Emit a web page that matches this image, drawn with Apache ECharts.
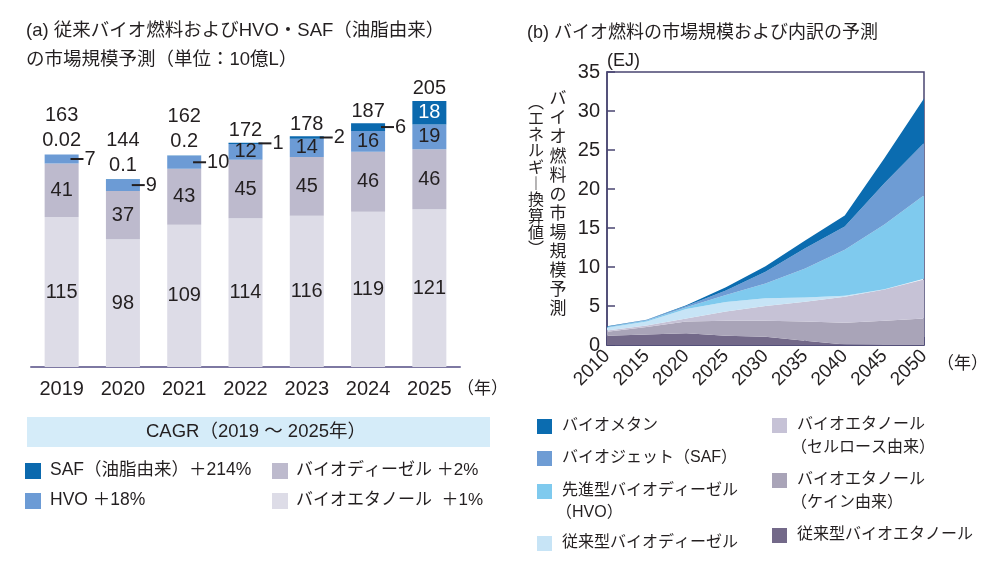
<!DOCTYPE html>
<html><head><meta charset="utf-8">
<script src="https://cdn.jsdelivr.net/npm/echarts@6/dist/echarts.min.js"></script>
<style>html,body{margin:0;padding:0;background:#fff}#c{width:1000px;height:571px}</style>
</head><body><div id="c"></div>
<script>
// ---- Panel (a) data: 10億L ----
const barYears = ['2019','2020','2021','2022','2023','2024','2025'];
const ethanolA = [115, 98, 109, 114, 116, 119, 121];
const dieselA  = [41, 37, 43, 45, 45, 46, 46];
const hvoA     = [7, 9, 10, 12, 14, 16, 19];
const safA     = [0.02, 0.1, 0.2, 1, 2, 6, 18];
const totalA   = [163, 144, 162, 172, 178, 187, 205];
const hvoLabelMode = ['leader','leader','leader','inside','inside','inside','inside'];
const safLabelMode = ['top','top','top','leader','leader','leader','inside'];

// ---- Panel (b) data: EJ ----
const areaYears = ['2010','2015','2020','2025','2030','2035','2040','2045','2050'];
const convEthanol = [1.2, 1.35, 1.5, 1.2, 1.05, 0.55, 0.08, 0, 0];
const caneEthanol = [0.5, 0.95, 1.5, 1.9, 2.05, 2.45, 2.77, 3.1, 3.4];
const celluEthanol = [0.15, 0.2, 0.4, 1.2, 1.9, 2.55, 3.35, 4.0, 5.0];
const convDiesel = [0.35, 0.5, 1.2, 1.2, 1.0, 0.55, 0.1, 0.05, 0.1];
const hvoB = [0.1, 0.15, 0.25, 0.9, 1.9, 3.7, 5.9, 8.3, 10.7];
const safB = [0.05, 0.05, 0.15, 0.6, 1.5, 2.6, 3.0, 5.3, 6.7];
const methaneB = [0.05, 0.05, 0.1, 0.4, 0.7, 1.0, 1.4, 3.2, 5.7];
const yTicksB = [0, 35, 5];

const FONT = '"Liberation Sans", Arial, "Noto Sans CJK JP", sans-serif';
const TXT = '#231f20';
const C = {
  safA: '#0b69ae', hvoA: '#6c9bd5', dieselA: '#bdbacd', ethA: '#dddce7',
  meth: '#0b6cb0', safB: '#6e9cd4', hvoB: '#7fcaee', bd: '#c7e4f6',
  cellu: '#c6c2d6', cane: '#a9a4b8', conv: '#736989', frame: '#4a4672'
};

function leaderLabel(v, pos) {
  return {
    show: true, position: [pos, '50%'], align: 'left', verticalAlign: 'middle',
    formatter: '{l|}{n|' + v + '}',
    rich: {
      l: { width: 13, height: 2, backgroundColor: TXT, verticalAlign: 'middle' },
      n: { fontSize: 20, color: TXT, fontFamily: FONT, padding: [0, 0, 0, 1], verticalAlign: 'middle' }
    }
  };
}
function insideLabel(color) {
  return { show: true, position: 'inside', fontSize: 20, color: color || TXT, fontFamily: FONT };
}

const hvoData = hvoA.map((v, i) => ({
  value: v,
  label: hvoLabelMode[i] === 'leader' ? leaderLabel(v, '76%') : insideLabel()
}));
const safData = safA.map((v, i) => {
  let label;
  if (safLabelMode[i] === 'leader') label = leaderLabel(v, '88%');
  else if (safLabelMode[i] === 'inside') label = insideLabel('#ffffff');
  else label = { show: true, position: 'top', distance: 4, fontSize: 20, color: TXT, fontFamily: FONT };
  return { value: v, label };
});
const totalData = totalA.map((t, i) => ({
  value: [i, ethanolA[i] + dieselA[i] + hvoA[i] + safA[i]],
  label: {
    show: true, position: 'top', distance: safLabelMode[i] === 'top' ? 29 : 2,
    formatter: String(t), fontSize: 20, color: TXT, opacity: 1, fontFamily: FONT
  }
}));

function areaSeries(name, data, color) {
  return {
    name, type: 'line', xAxisIndex: 1, yAxisIndex: 1, stack: 'b', data,
    symbol: 'none', smooth: false, lineStyle: { width: 0 },
    areaStyle: { color, opacity: 1 }, itemStyle: { color }
  };
}

function sq(x, y, color, s) { return { type: 'rect', shape: { x, y, width: s || 15, height: s || 15 }, style: { fill: color } }; }
function txt(x, y, text, size, opts) {
  return { type: 'text', x, y, style: Object.assign({ text, fill: TXT, font: (size || 17) + 'px ' + FONT, textVerticalAlign: 'middle', textAlign: 'left' }, (opts || {})) };
}

const graphic = [
  txt(26, 31, '(a) 従来バイオ燃料およびHVO・SAF（油脂由来）', 18.5),
  txt(26, 60, 'の市場規模予測（単位：10億L）', 18.5),
  txt(457, 389, '（年）', 17),
  { type: 'rect', shape: { x: 27, y: 417, width: 463, height: 30 }, style: { fill: '#d5ecf9' } },
  txt(256, 432, 'CAGR（2019 ～ 2025年）', 18.5, { textAlign: 'center' }),
  sq(25, 463, C.safA, 16), txt(50, 470, 'SAF（油脂由来）＋214%', 17.5),
  sq(25, 493, C.hvoA, 16), txt(50, 500, 'HVO ＋18%', 17.5),
  sq(272, 463, C.dieselA, 16), txt(296, 470, 'バイオディーゼル ＋2%', 17),
  sq(272, 493, C.ethA, 16), txt(296, 500, 'バイオエタノール  ＋1%', 17),

  txt(527, 33, '(b) バイオ燃料の市場規模および内訳の予測', 18),
  txt(607, 61, '(EJ)', 18),
  { type: 'text', x: 558, y: 90, style: { text: ['バ','イ','オ','燃','料','の','市','場','規','模','予','測'].join('\n'), fill: TXT, font: '17px ' + FONT, lineHeight: 19.1, textAlign: 'center', textVerticalAlign: 'top' } },
  { type: 'text', x: 536, y: 95, style: { text: ['︵','エ','ネ','ル','ギ','︱','換','算','値','︶'].join('\n'), fill: TXT, font: '16px ' + FONT, lineHeight: 16.3, textAlign: 'center', textVerticalAlign: 'top' } },
  txt(937, 364, '（年）', 17),

  sq(537, 419, C.meth), txt(562, 426, 'バイオメタン', 16),
  sq(537, 451, C.safB), txt(562, 458, 'バイオジェット（SAF）', 16),
  sq(537, 484, C.hvoB), txt(562, 491, '先進型バイオディーゼル', 16), txt(556, 513, '（HVO）', 16),
  sq(537, 536, C.bd), txt(562, 543, '従来型バイオディーゼル', 16),
  sq(772, 418, C.cellu), txt(797, 425, 'バイオエタノール', 16), txt(791, 448, '（セルロース由来）', 16),
  sq(772, 473, C.cane), txt(797, 480, 'バイオエタノール', 16), txt(791, 503, '（ケイン由来）', 16),
  sq(772, 528, C.conv), txt(797, 535, '従来型バイオエタノール', 16)
];

const option = {
  backgroundColor: '#ffffff',
  animation: false,
  textStyle: { fontFamily: FONT },
  grid: [
    { left: 31, top: 41, width: 429, height: 326 },
    { left: 607, top: 72, width: 317, height: 273, show: true, borderColor: C.frame, borderWidth: 1.5, backgroundColor: 'transparent' }
  ],
  xAxis: [
    { type: 'category', gridIndex: 0, data: barYears,
      axisLine: { lineStyle: { color: '#7d78a2', width: 2 } }, axisTick: { show: false },
      axisLabel: { fontSize: 20, color: TXT, margin: 12, fontFamily: FONT } },
    { type: 'category', gridIndex: 1, data: areaYears, boundaryGap: false,
      axisLine: { lineStyle: { color: C.frame, width: 1.5 } },
      axisTick: { inside: true, length: 8, lineStyle: { color: C.frame, width: 1.5 } },
      axisLabel: { fontSize: 19, color: TXT, rotate: 45, margin: 8, fontFamily: FONT } }
  ],
  yAxis: [
    { type: 'value', gridIndex: 0, min: 0, max: 250, show: false, splitLine: { show: false } },
    { type: 'value', gridIndex: 1, min: yTicksB[0], max: yTicksB[1], interval: yTicksB[2],
      axisLine: { show: true, lineStyle: { color: C.frame, width: 1.5 } },
      axisTick: { show: true, inside: true, length: 8, lineStyle: { color: C.frame, width: 1.5 } },
      splitLine: { show: false },
      axisLabel: { fontSize: 20, color: TXT, margin: 7, fontFamily: FONT } }
  ],
  series: [
    { name: 'バイオエタノール', type: 'bar', stack: 'a', barWidth: 34, data: ethanolA, itemStyle: { color: C.ethA }, label: insideLabel() },
    { name: 'バイオディーゼル', type: 'bar', stack: 'a', barWidth: 34, data: dieselA, itemStyle: { color: C.dieselA }, label: insideLabel() },
    { name: 'HVO', type: 'bar', stack: 'a', barWidth: 34, data: hvoData, itemStyle: { color: C.hvoA } },
    { name: 'SAF（油脂由来）', type: 'bar', stack: 'a', barWidth: 34, data: safData, itemStyle: { color: C.safA } },
    { name: '合計', type: 'scatter', data: totalData, symbolSize: 0, itemStyle: { color: TXT, opacity: 1 }, z: 5, silent: true },
    areaSeries('従来型バイオエタノール', convEthanol, C.conv),
    areaSeries('バイオエタノール（ケイン由来）', caneEthanol, C.cane),
    areaSeries('バイオエタノール（セルロース由来）', celluEthanol, C.cellu),
    areaSeries('従来型バイオディーゼル', convDiesel, C.bd),
    areaSeries('先進型バイオディーゼル（HVO）', hvoB, C.hvoB),
    areaSeries('バイオジェット（SAF）', safB, C.safB),
    areaSeries('バイオメタン', methaneB, C.meth)
  ],
  graphic
};
const chart = echarts.init(document.getElementById('c'), null, { renderer: 'canvas' });
chart.setOption(option);
</script>
</body></html>
